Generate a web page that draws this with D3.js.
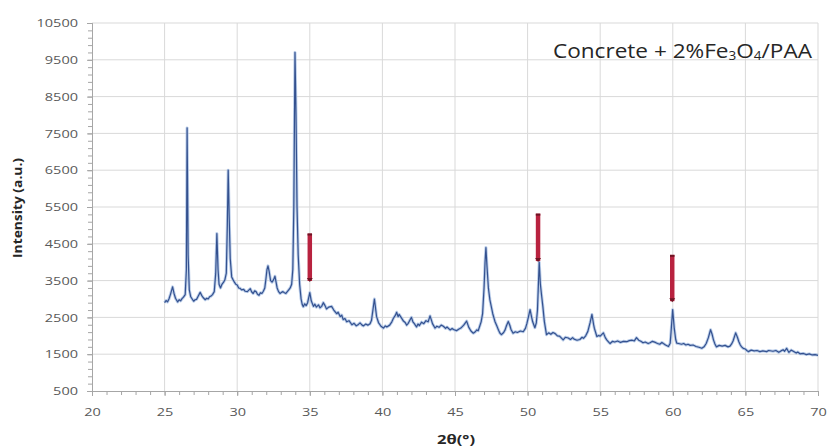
<!DOCTYPE html>
<html><head><meta charset="utf-8">
<script src="https://cdn.jsdelivr.net/npm/d3@7"></script>
<style>
html,body{margin:0;padding:0;background:#fff;}
svg{display:block;}
</style></head>
<body>
<svg id="c" width="829" height="447"></svg>
<script>
// ---- data: [2θ, intensity] ----
const scanPoints = [
[25.0,2900],[25.1,2960],[25.2,2920],[25.3,3000],[25.4,3120],[25.55,3330],[25.65,3150],[25.75,3020],[25.9,2920],[26.0,2980],[26.1,2950],[26.2,3010],[26.3,3050],[26.42,3120],[26.5,3800],[26.55,7650],[26.62,4200],[26.7,3250],[26.8,3060],[26.9,3000],[27.0,2940],[27.1,2980],[27.2,2990],[27.32,3080],[27.45,3180],[27.55,3100],[27.65,3040],[27.8,2980],[27.9,3020],[28.0,3000],[28.1,3060],[28.2,3080],[28.3,3120],[28.42,3200],[28.52,3700],[28.6,4780],[28.68,3800],[28.75,3400],[28.85,3300],[28.95,3400],[29.05,3450],[29.15,3520],[29.25,3700],[29.32,5000],[29.38,6500],[29.45,5200],[29.52,4100],[29.62,3600],[29.72,3520],[29.82,3450],[29.9,3400],[30.0,3380],[30.1,3300],[30.2,3290],[30.3,3250],[30.45,3260],[30.55,3210],[30.7,3200],[30.8,3240],[30.9,3280],[31.0,3190],[31.1,3150],[31.2,3220],[31.3,3200],[31.4,3130],[31.5,3100],[31.6,3170],[31.7,3150],[31.8,3210],[31.9,3300],[31.98,3550],[32.05,3800],[32.12,3900],[32.2,3750],[32.3,3500],[32.4,3460],[32.5,3520],[32.6,3620],[32.68,3450],[32.75,3300],[32.85,3200],[32.95,3150],[33.05,3180],[33.15,3200],[33.25,3170],[33.35,3150],[33.45,3200],[33.55,3250],[33.65,3300],[33.75,3400],[33.83,3800],[33.9,5500],[33.98,9700],[34.05,8000],[34.12,5500],[34.2,4200],[34.3,3400],[34.4,3000],[34.48,2850],
[34.55,2790],[34.65,2870],[34.75,2820],[34.85,2900],[35.0,3175],[35.1,2950],[35.25,2800],[35.35,2860],[35.45,2780],[35.6,2840],[35.7,2760],[35.82,2800],[35.93,2900],[36.05,2820],[36.15,2730],[36.3,2780],[36.5,2800],[36.65,2700],[36.85,2600],[36.95,2640],[37.1,2520],[37.2,2560],[37.3,2440],[37.42,2470],[37.54,2380],[37.7,2410],[37.9,2300],[38.05,2340],[38.2,2270],[38.35,2310],[38.46,2350],[38.6,2290],[38.7,2270],[38.85,2320],[39.0,2290],[39.15,2330],[39.25,2420],[39.45,3000],[39.6,2520],[39.73,2360],[39.9,2260],[40.07,2210],[40.2,2270],[40.3,2240],[40.5,2290],[40.65,2380],[40.75,2470],[40.9,2560],[40.98,2640],[41.08,2520],[41.15,2580],[41.32,2480],[41.45,2400],[41.57,2360],[41.67,2290],[41.78,2340],[41.9,2430],[42.0,2500],[42.1,2380],[42.2,2330],[42.35,2240],[42.45,2320],[42.55,2280],[42.7,2370],[42.85,2330],[43.0,2410],[43.15,2380],[43.28,2540],[43.38,2420],[43.45,2330],[43.62,2210],[43.75,2260],[43.9,2230],[44.05,2290],[44.2,2260],[44.35,2200],[44.45,2240],[44.66,2160],[44.8,2200],[44.9,2170],[45.1,2140],[45.25,2180],[45.4,2210],[45.6,2290],[45.8,2400],[45.95,2230],[46.1,2130],[46.26,2070],[46.4,2110],[46.5,2160],[46.6,2140],[46.7,2260],[46.8,2380],[46.9,2600],[47.0,3300],[47.07,4000],[47.13,4400],[47.2,3900],[47.3,3300],
[47.4,2985],[47.6,2600],[47.75,2390],[47.9,2250],[48.0,2150],[48.1,2070],[48.2,2030],[48.35,2090],[48.45,2160],[48.55,2280],[48.67,2390],[48.78,2280],[48.85,2180],[49.0,2070],[49.15,2110],[49.3,2090],[49.5,2130],[49.7,2110],[49.85,2200],[49.95,2330],[50.05,2500],[50.17,2710],[50.28,2500],[50.35,2380],[50.5,2220],[50.6,2350],[50.68,2700],[50.8,4000],[50.88,3400],[50.97,3075],[51.05,2800],[51.15,2400],
[51.3,2030],[51.45,2080],[51.6,2040],[51.75,2090],[51.9,2060],[52.05,2000],[52.2,1990],[52.35,1930],[52.45,1890],[52.6,1960],[52.8,1940],[52.95,1900],[53.1,1950],[53.2,1910],[53.4,1880],[53.6,1900],[53.75,1960],[53.85,1930],[54.0,2000],[54.15,2120],[54.3,2350],[54.43,2580],[54.55,2300],[54.6,2200],[54.77,1980],[54.9,2010],[55.0,1990],[55.1,2030],[55.22,2080],[55.35,1950],[55.45,1890],[55.6,1820],[55.68,1790],[55.85,1850],[56.0,1830],[56.2,1860],[56.4,1820],[56.6,1850],[56.83,1840],[57.0,1870],[57.2,1880],[57.35,1860],[57.5,1950],[57.65,1880],[57.8,1850],[57.95,1810],[58.1,1830],[58.3,1790],[58.43,1810],[58.6,1850],[58.8,1820],[58.95,1790],[59.1,1770],[59.25,1820],[59.35,1790],[59.5,1750],[59.7,1710],[59.82,1800],[59.88,2100],[59.99,2710],[60.1,2200],[60.2,1900],[60.27,1800],[60.4,1790],[60.6,1770],[60.75,1790],[60.9,1750],[61.05,1770],[61.2,1740],[61.4,1750],[61.6,1710],[61.8,1690],[62.0,1660],[62.15,1700],[62.3,1790],[62.45,1950],[62.6,2165],[62.7,2050],[62.8,1890],[62.9,1780],[63.0,1700],[63.2,1740],[63.4,1720],[63.6,1740],[63.8,1700],[63.94,1720],[64.05,1780],[64.15,1860],[64.33,2080],[64.45,1960],[64.55,1840],[64.65,1750],[64.74,1700],[64.85,1660],[65.0,1640],[65.1,1600],[65.2,1570],[65.4,1610],[65.6,1590],[65.8,1600],[66.0,1570],[66.2,1590],[66.46,1570],[66.6,1600],[66.9,1580],[67.1,1600],[67.3,1550],[67.45,1590],[67.6,1620],[67.7,1580],[67.84,1660],[67.92,1600],[68.0,1550],[68.15,1610],[68.3,1580],[68.5,1530],[68.6,1560],[68.76,1510],[69.0,1520],[69.2,1490],[69.4,1510],[69.6,1480],[69.8,1490],[70.0,1470]
];
const twoTheta = scanPoints.map(d=>d[0]);
const intensity = scanPoints.map(d=>d[1]);
const markerPos = [35.0, 50.72, 59.96];
const markerTop = [4780, 5320, 4200];
const markerBottom = [3490, 4030, 2940];
const xTicks = [20,25,30,35,40,45,50,55,60,65,70];
const yTicks = [500,1500,2500,3500,4500,5500,6500,7500,8500,9500,10500];
const titleParts = [["Concrete + 2%Fe",0],["3",1],["O",0],["4",1],["/PAA",0]];

// ---- chart ----
const FONT = "'Open Sans',Lato,sans-serif";
const svg = d3.select("#c");
const x = d3.scaleLinear().domain([20,70]).range([92,818]);
const y = d3.scaleLinear().domain([500,10500]).range([391,23]);

// gridlines
const g = svg.append("g");
g.selectAll("line.vg").data(xTicks.slice(1)).join("line")
  .attr("x1",d=>x(d)).attr("x2",d=>x(d)).attr("y1",y(500)).attr("y2",y(10500))
  .attr("stroke","#d9d9d9").attr("stroke-width",1);
g.selectAll("line.hg").data(yTicks.slice(1)).join("line")
  .attr("x1",x(20)).attr("x2",x(70)).attr("y1",d=>y(d)).attr("y2",d=>y(d))
  .attr("stroke","#d9d9d9").attr("stroke-width",1);

// minor ticks
const yMinor = d3.axisLeft(y).tickValues(d3.range(500,10501,200)).tickSize(4).tickFormat("");
const xMinor = d3.axisBottom(x).tickValues(d3.range(20,71,1)).tickSize(4).tickFormat("");
const ym = svg.append("g").attr("transform",`translate(${x(20)},0)`).call(yMinor);
const xm = svg.append("g").attr("transform",`translate(0,${y(500)})`).call(xMinor);
[ym,xm].forEach(s=>{s.select(".domain").attr("stroke","#a6a6a6");s.selectAll(".tick line").attr("stroke","#a6a6a6");});

// major axes with labels
const yAx = d3.axisLeft(y).tickValues(yTicks).tickSize(5).tickPadding(9).tickFormat(d3.format("d"));
const xAx = d3.axisBottom(x).tickValues(xTicks).tickSize(5).tickPadding(12).tickFormat(d3.format("d"));
const ya = svg.append("g").attr("transform",`translate(${x(20)},0)`).call(yAx);
const xa = svg.append("g").attr("transform",`translate(0,${y(500)})`).call(xAx);
[ya,xa].forEach(s=>{
  s.select(".domain").attr("stroke","#a6a6a6");
  s.selectAll(".tick line").attr("stroke","#a6a6a6");
  s.selectAll(".tick text").attr("fill","#595959").style("font-family",FONT).style("font-size","11.5px")
    .attr("textLength",function(){return this.textContent.length*8.3;}).attr("lengthAdjust","spacingAndGlyphs");
});

// data line
const pts = twoTheta.map((t,i)=>[t,intensity[i]]);
const line = d3.line().x(d=>x(d[0])).y(d=>y(d[1]));
svg.append("path").datum(pts).attr("d",line).attr("fill","none")
  .attr("stroke","#a9c1e4").attr("stroke-width",3).attr("stroke-linejoin","round").attr("opacity",0.8);
svg.append("path").datum(pts).attr("d",line).attr("fill","none")
  .attr("stroke","#34518f").attr("stroke-width",1.2).attr("stroke-linejoin","round");

// markers
const mk = svg.append("g");
markerPos.forEach((p,i)=>{
  mk.append("line").attr("x1",x(p)).attr("x2",x(p)).attr("y1",y(markerTop[i])).attr("y2",y(markerBottom[i]))
    .attr("stroke","#b8223f").attr("stroke-width",4.5);
  mk.append("line").attr("x1",x(p)).attr("x2",x(p)).attr("y1",y(markerTop[i])).attr("y2",y(markerTop[i])+2)
    .attr("stroke","#6e1424").attr("stroke-width",4.5);
  mk.append("path").attr("d",`M${x(p)-3},${y(markerBottom[i])-3} L${x(p)+3},${y(markerBottom[i])-3} L${x(p)},${y(markerBottom[i])+1}Z`)
    .attr("fill","#6e1424");
});

// title
const tt = svg.append("text").attr("x",553).attr("y",58)
  .attr("textLength",259).attr("lengthAdjust","spacingAndGlyphs")
  .style("font-family",FONT).style("font-size","20px").attr("fill","#262626");
titleParts.forEach(([s,sub],i)=>{
  const ts = tt.append("tspan").text(s);
  if(sub){ ts.style("font-size","12px").attr("dy",2); }
  else if(i>0){ ts.attr("dy",-2); }
});

// axis titles
svg.append("text").attr("transform",`translate(22,${(y(500)+y(10500))/2+1}) rotate(-90)`)
  .attr("text-anchor","middle").style("font-family",FONT)
  .attr("textLength",100).attr("lengthAdjust","spacingAndGlyphs")
  .style("font-size","12px").style("font-weight","bold").attr("fill","#262626").text("Intensity (a.u.)");
svg.append("text").attr("x",456).attr("y",444).attr("text-anchor","middle")
  .style("font-family",FONT).attr("textLength",38).attr("lengthAdjust","spacingAndGlyphs")
  .style("font-size","13px").style("font-weight","bold").attr("fill","#262626").text("2θ(°)");
</script>
</body></html>
